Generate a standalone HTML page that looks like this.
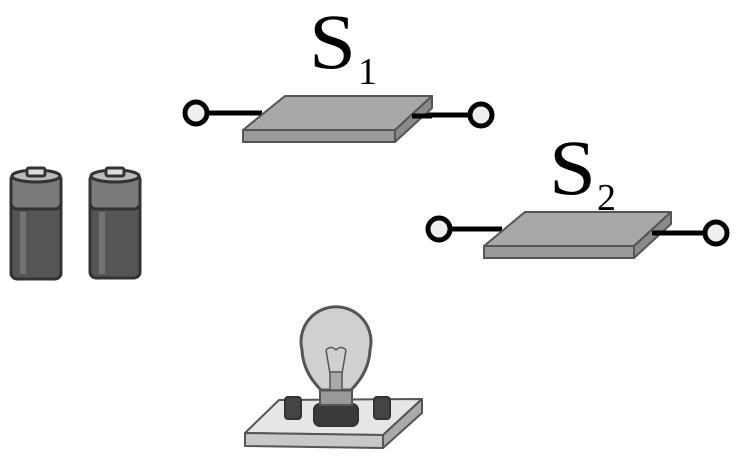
<!DOCTYPE html>
<html><head><style>body{margin:0;background:#fff}svg{display:block}</style></head><body>
<svg width="745" height="459" viewBox="0 0 745 459" xmlns="http://www.w3.org/2000/svg">
<g font-family="Liberation Serif, serif" fill="#000">
<text x="309" y="68" font-size="78" textLength="47" lengthAdjust="spacingAndGlyphs">S</text><text x="358" y="84" font-size="38">1</text>
<text x="549" y="194" font-size="78" textLength="47" lengthAdjust="spacingAndGlyphs">S</text><text x="597" y="210" font-size="38">2</text>
</g>
<!-- S1 -->
<g stroke="#000" stroke-width="5"><line x1="196" y1="113" x2="262" y2="113"/><line x1="410" y1="115" x2="481" y2="115"/></g>
<g stroke="#555" stroke-width="2" stroke-linejoin="round">
<polygon points="243,130 285,96 432,96 395,130" fill="#a8a8a8"/>
<polygon points="243,130 395,130 395,142 243,142" fill="#9a9a9a"/>
<polygon points="395,130 432,96 432,108 395,142" fill="#8a8a8a"/>
</g>
<line x1="412" y1="116" x2="432" y2="116" stroke="#000" stroke-width="5"/>
<g stroke="#000" stroke-width="5" fill="#eee"><circle cx="196" cy="113" r="11"/><circle cx="481" cy="115" r="11"/></g>
<!-- S2 -->
<g stroke="#000" stroke-width="5"><line x1="439" y1="229" x2="502" y2="229"/><line x1="650" y1="233" x2="716" y2="233"/></g>
<g stroke="#555" stroke-width="2" stroke-linejoin="round">
<polygon points="484,246 525,212 671,212 634,246" fill="#a8a8a8"/>
<polygon points="484,246 634,246 634,258 484,258" fill="#9a9a9a"/>
<polygon points="634,246 671,212 671,224 634,258" fill="#8a8a8a"/>
</g>
<line x1="652" y1="233" x2="671" y2="233" stroke="#000" stroke-width="5"/>
<g stroke="#000" stroke-width="5" fill="#eee"><circle cx="439" cy="229" r="11"/><circle cx="716" cy="233" r="11"/></g>
<!-- batteries -->
<g stroke="#333" stroke-width="3">
<rect x="11" y="174" width="50" height="105" rx="6" fill="#555"/>
<rect x="11" y="174" width="50" height="35" rx="6" fill="#7a7a7a"/>
<ellipse cx="36" cy="176" rx="24" ry="6" fill="#bbb"/>
<rect x="27" y="168" width="18" height="8" rx="2" fill="#ddd"/>
<rect x="90" y="174" width="50" height="104" rx="6" fill="#555"/>
<rect x="90" y="174" width="50" height="35" rx="6" fill="#7a7a7a"/>
<ellipse cx="115" cy="176" rx="24" ry="6" fill="#bbb"/>
<rect x="106" y="168" width="18" height="8" rx="2" fill="#ddd"/>
</g>
<g fill="#888" opacity=".6"><rect x="20" y="212" width="6" height="62"/><rect x="99" y="212" width="6" height="62"/></g>
<!-- bulb board -->
<g stroke="#555" stroke-width="2" stroke-linejoin="round">
<polygon points="245,433 279,400 422,399 383,435" fill="#e6e6e6"/>
<polygon points="245,433 383,435 383,448 245,446" fill="#c8c8c8"/>
<polygon points="383,435 422,399 422,413 383,448" fill="#aaa"/>
</g>
<g stroke="#333" stroke-width="2" fill="#444">
<rect x="285" y="397" width="16" height="22" rx="3"/><rect x="374" y="397" width="16" height="22" rx="3"/>
<rect x="314" y="404" width="44" height="22" rx="6" fill="#3a3a3a"/>
</g>
<rect x="320" y="390" width="32" height="15" fill="#999" stroke="#555" stroke-width="2"/>
<path d="M321,390 Q303,372 302,350 A35,35 0 1 1 370,350 Q369,372 351,390 Z" fill="#d0d0d0" stroke="#555" stroke-width="3"/>
<g stroke="#555" stroke-width="1.5" fill="none"><path d="M326,350 L332,385 M346,350 L340,385 M326,350 q5,-5 10,0 q5,-5 10,0"/><rect x="330" y="372" width="12" height="18" fill="#aaa"/></g>
</svg>
</body></html>
